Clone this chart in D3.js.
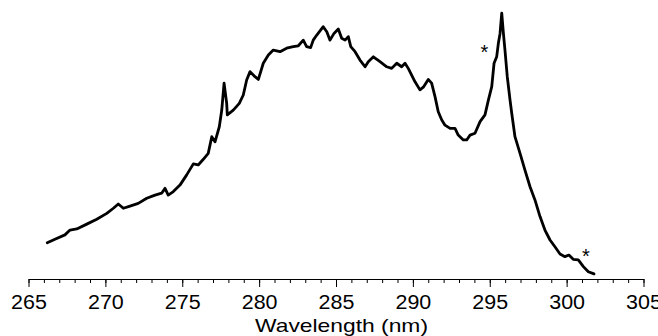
<!DOCTYPE html>
<html>
<head>
<meta charset="utf-8">
<script src="https://cdn.jsdelivr.net/npm/d3@7/dist/d3.min.js"></script>
<style>
  html, body { margin: 0; padding: 0; background: #fff; }
  svg { display: block; font-family: "Liberation Sans", Arial, sans-serif; }
</style>
</head>
<body>
<svg id="chart" width="658" height="336"></svg>
<script>
// Emission spectrum: wavelength (nm) and relative intensity (a.u.)
const wavelength = [
  266.22, 266.72, 267.37, 267.70, 268.14, 268.79, 269.44, 270.09, 270.52, 270.84,
  271.17, 271.60, 272.14, 272.69, 273.23, 273.66, 273.88, 274.09, 274.42, 274.85,
  275.29, 275.72, 276.04, 276.37, 276.69, 276.92, 277.13, 277.41, 277.57, 277.72,
  277.89, 277.93, 278.32, 278.71, 278.97, 279.19, 279.41, 279.73, 279.95, 280.27,
  280.60, 280.92, 281.36, 281.79, 282.22, 282.55, 282.87, 283.09, 283.35, 283.52,
  283.75, 284.01, 284.17, 284.40, 284.61, 284.87, 285.15, 285.37, 285.59, 285.80,
  285.96, 286.24, 286.56, 286.89, 287.10, 287.43, 287.86, 288.30, 288.62, 288.95,
  289.27, 289.49, 289.70, 289.92, 290.14, 290.46, 290.68, 291.00, 291.22, 291.44,
  291.65, 291.88, 292.09, 292.42, 292.74, 292.95, 293.28, 293.50, 293.72, 294.04,
  294.37, 294.69, 294.91, 295.13, 295.28, 295.45, 295.56, 295.67, 295.78, 295.88,
  295.99, 296.14, 296.32, 296.43, 296.64, 296.97, 297.29, 297.62, 297.94, 298.27,
  298.59, 298.92, 299.24, 299.57, 299.89, 300.15, 300.43, 300.76, 301.09, 301.41,
  301.78
];
const intensity = [
  0.135, 0.148, 0.164, 0.182, 0.186, 0.204, 0.222, 0.244, 0.263, 0.279,
  0.263, 0.271, 0.281, 0.300, 0.312, 0.319, 0.337, 0.312, 0.325, 0.349,
  0.387, 0.428, 0.424, 0.445, 0.467, 0.529, 0.510, 0.566, 0.628, 0.728,
  0.653, 0.610, 0.628, 0.653, 0.684, 0.740, 0.771, 0.752, 0.742, 0.802,
  0.833, 0.851, 0.845, 0.858, 0.864, 0.867, 0.888, 0.864, 0.860, 0.888,
  0.907, 0.926, 0.938, 0.919, 0.888, 0.913, 0.929, 0.895, 0.888, 0.901,
  0.864, 0.845, 0.814, 0.789, 0.808, 0.826, 0.808, 0.789, 0.783, 0.802,
  0.789, 0.802, 0.783, 0.758, 0.733, 0.703, 0.713, 0.742, 0.728, 0.678,
  0.622, 0.591, 0.572, 0.560, 0.560, 0.535, 0.517, 0.517, 0.535, 0.542,
  0.585, 0.610, 0.665, 0.715, 0.802, 0.826, 0.876, 0.913, 0.988, 0.919,
  0.851, 0.752, 0.665, 0.616, 0.529, 0.467, 0.405, 0.343, 0.294, 0.232,
  0.182, 0.145, 0.120, 0.093, 0.083, 0.089, 0.073, 0.071, 0.046, 0.027,
  0.019
];

// Axis ticks and annotations
const majorTicks = [265, 270, 275, 280, 285, 290, 295, 300, 305];
const minorTicks = d3.range(265, 306, 1);
const markers = [
  { wl: 294.65, level: 0.823, text: "*" },
  { wl: 301.25, level: 0.063, text: "*" }
];
const xTitle = "Wavelength (nm)";

const svg = d3.select("#chart");
const axisY = 279;

const x = d3.scaleLinear().domain([265, 305]).range([28.5, 643.5]);
const y = d3.scaleLinear().domain([0, 1]).range([axisY, 10]);

// minor ticks (no labels)
svg.append("g")
  .attr("transform", `translate(0,${axisY})`)
  .call(d3.axisBottom(x).tickValues(minorTicks).tickSize(4).tickSizeOuter(0).tickFormat(""))
  .call(g => g.select(".domain").remove())
  .call(g => g.selectAll("line").attr("stroke", "#000"));

// major ticks with labels
const gx = svg.append("g")
  .attr("transform", `translate(0,${axisY})`)
  .call(d3.axisBottom(x).tickValues(majorTicks).tickSize(8).tickSizeOuter(0).tickPadding(8).tickFormat(d3.format("d")));
gx.select(".domain").attr("stroke", "#000");
gx.selectAll("line").attr("stroke", "#000");
gx.selectAll("text")
  .attr("fill", "#000")
  .attr("transform", "scale(1.1,1)")
  .style("font-size", "19.5px")
  .style("font-family", "'Liberation Sans', Arial, sans-serif");

svg.append("text")
  .attr("x", 341.5)
  .attr("y", 332)
  .attr("text-anchor", "middle")
  .attr("textLength", 173)
  .attr("lengthAdjust", "spacingAndGlyphs")
  .style("font-size", "19px")
  .attr("fill", "#000")
  .text(xTitle);

// spectrum trace
const pts = wavelength.map((w, i) => [w, intensity[i]]);
svg.append("path")
  .datum(pts)
  .attr("fill", "none")
  .attr("stroke", "#000")
  .attr("stroke-width", 2.8)
  .attr("stroke-linejoin", "round")
  .attr("stroke-linecap", "round")
  .attr("d", d3.line().x(d => x(d[0])).y(d => y(d[1])));

// band markers
svg.selectAll("text.marker")
  .data(markers)
  .join("text")
  .attr("class", "marker")
  .attr("x", d => x(d.wl))
  .attr("y", d => y(d.level) + 1)
  .attr("text-anchor", "middle")
  .style("font-size", "20px")
  .attr("fill", "#000")
  .text(d => d.text);
</script>
</body>
</html>
